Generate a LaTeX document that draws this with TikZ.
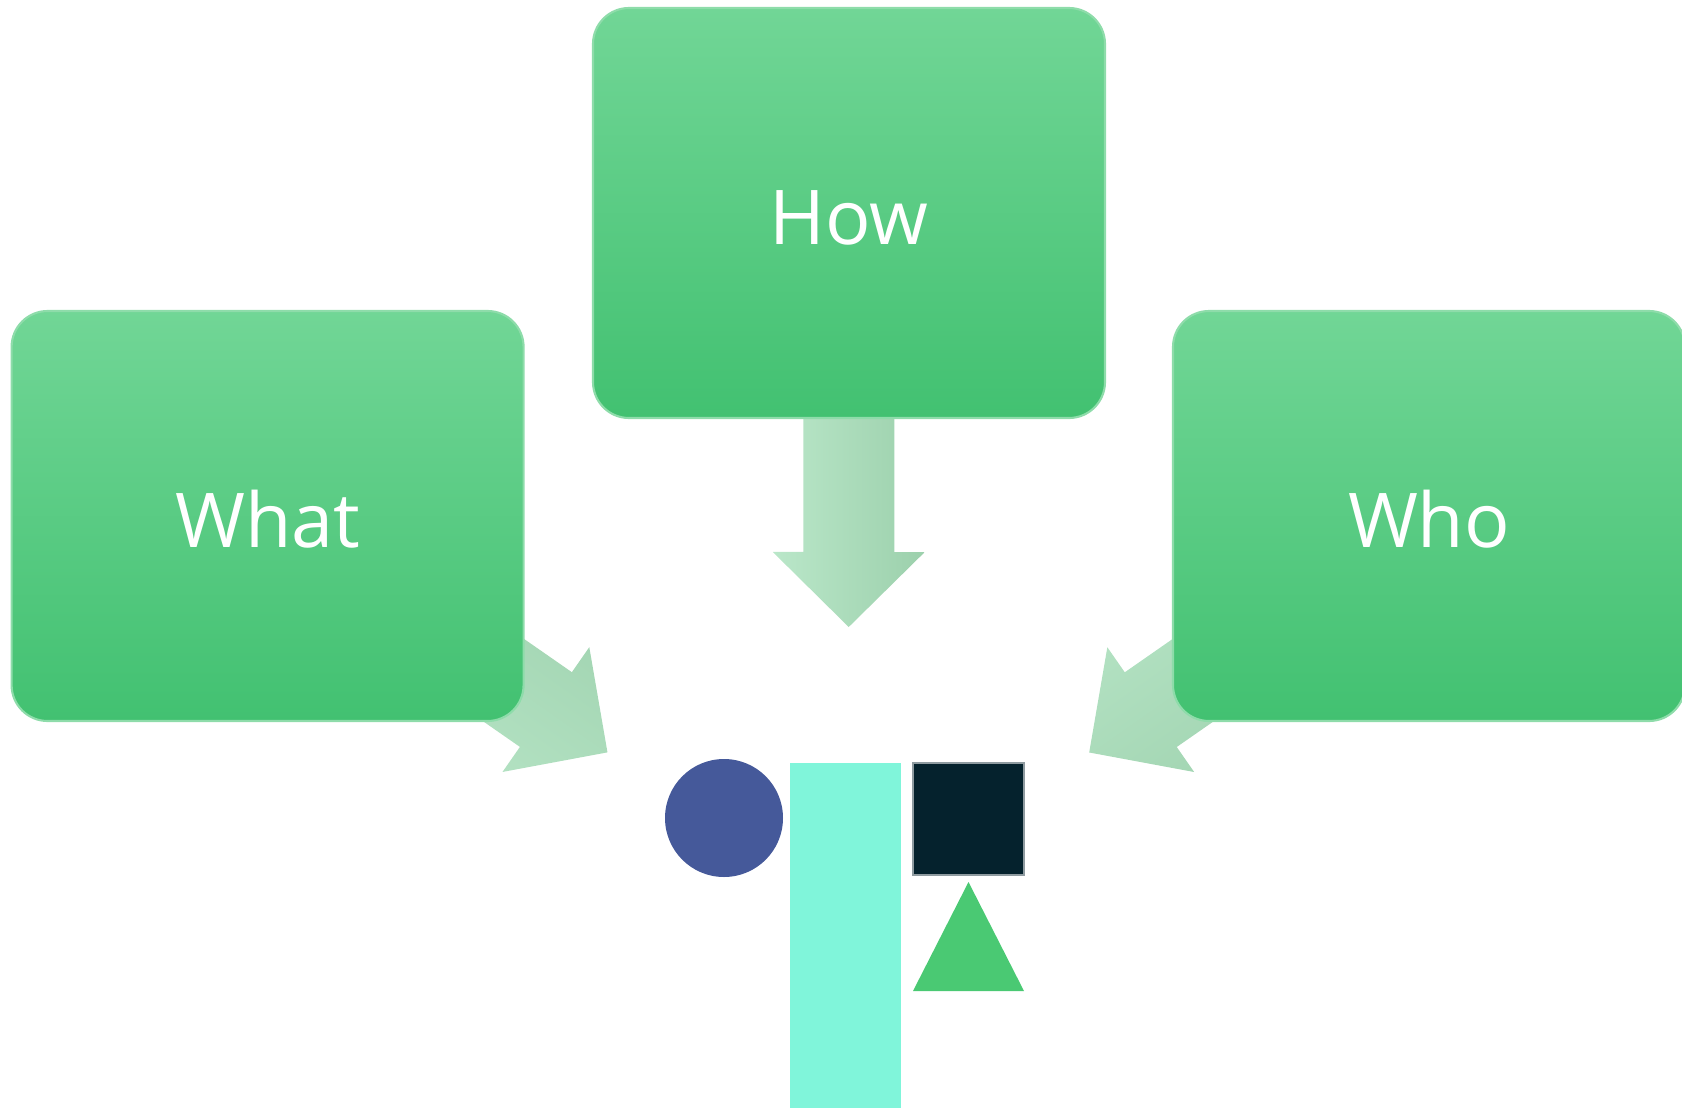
\documentclass[tikz,border=0pt]{standalone}
\usepackage{fontspec}
\setmainfont{Open Sans}
\usetikzlibrary{calc,backgrounds}
\definecolor{boxtop}{HTML}{71D696}
\definecolor{boxmid}{HTML}{56D486}
\definecolor{boxbot}{HTML}{42C171}
\definecolor{boxline}{HTML}{8EDCAA}
\definecolor{arrlight}{HTML}{BAE7C9}
\definecolor{arrdark}{HTML}{9CD0AC}
\definecolor{ball}{HTML}{45599A}
\definecolor{bar}{HTML}{80F5DA}
\definecolor{block}{HTML}{05222D}
\definecolor{blockline}{HTML}{8F9BA0}
\definecolor{cone}{HTML}{4AC973}
\begin{document}
\begin{tikzpicture}[card/.style={rounded corners=0.36cm,minimum width=5.12cm,minimum height=4.1cm,top color=boxtop,middle color=boxmid,bottom color=boxbot,draw=boxline,line width=0.6pt,text=white,text height=0.62cm,text depth=0pt,font=\fontsize{21.5}{26}\selectfont},
flow/.style={top color=arrdark,bottom color=arrlight}]
\useasboundingbox (0,0) rectangle (16.82,-11.08);
\def\w{0.455cm}
\def\h{0.76cm}
\def\l{4.14cm}
\def\k{3.39cm}
\path
(2.676,-5.16) coordinate (P1)
(8.49,-2.13) coordinate (P2)
(14.29,-5.16) coordinate (P3)
(8.485,-9.2) coordinate (focus);
\foreach \t/\s in {P1/What,P2/How,P3/Who}{\node[card] (\s) at (\t) {\s};
}
% block arrows behind the cards
\begin{scope}[on background layer]
\foreach \n/\g in {What/-35,How/-90,Who/-145}{
\path (\n.center) coordinate (s) ($(s)!\l!(focus)$) coordinate (t) ($(s)!\k!(t)$) coordinate (b);
\shade[flow,shading angle=\g] ($(s)!\w!-90:(t)$) -- ($(b)!\w!-90:(t)$) -- ($(b)!\h!-90:(t)$) -- (t)
 -- ($(b)!\h!90:(t)$) -- ($(b)!\w!90:(t)$) -- ($(s)!\w!90:(t)$) -- cycle;
}
\end{scope}
% shapes at the bottom
\fill[ball] (7.24,-8.18) circle (0.59);
\fill[bar] (7.90,-7.63) rectangle (9.01,-11.08);
\filldraw[fill=block,draw=blockline,line width=0.6pt] (9.13,-7.63) rectangle (10.24,-8.75);
\fill[cone] (9.685,-8.82) -- (10.24,-9.91) -- (9.13,-9.91) -- cycle;
\end{tikzpicture}
\end{document}
